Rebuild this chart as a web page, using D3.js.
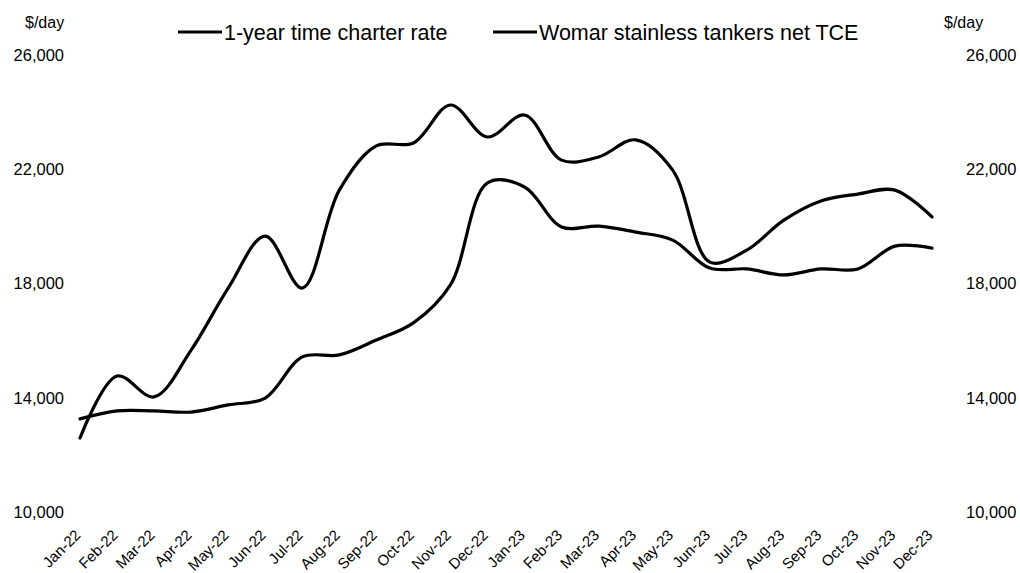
<!DOCTYPE html>
<html><head><meta charset="utf-8">
<script src="https://cdn.jsdelivr.net/npm/d3@7"></script>
<style>body{margin:0;background:#fff}svg{display:block}text{font-family:"Liberation Sans",Arial,sans-serif;fill:#000}</style>
</head><body><svg id="c" width="1020" height="573"></svg>
<script>
const months = ["Jan-22","Feb-22","Mar-22","Apr-22","May-22","Jun-22","Jul-22","Aug-22","Sep-22","Oct-22","Nov-22","Dec-22",
"Jan-23","Feb-23","Mar-23","Apr-23","May-23","Jun-23","Jul-23","Aug-23","Sep-23","Oct-23","Nov-23","Dec-23"];
const charterRate = [13260,13540,13540,13500,13750,13990,15430,15500,16020,16620,17950,21520,
21380,19980,20010,19800,19520,18540,18510,18300,18510,18510,19310,19240];
const womarTCE = [12590,14760,14030,15670,17840,19660,17840,21270,22820,22920,24250,23130,
23900,22320,22430,23030,21970,18750,19170,20220,20890,21130,21270,20330];
const yTicks = [10000,14000,18000,22000,26000];
const seriesNames = ["1-year time charter rate","Womar stainless tankers net TCE"];

const svg = d3.select("#c");
const x = d3.scalePoint().domain(months).range([80,932]);
const y = d3.scaleLinear().domain([10000,26000]).range([512,55]);
const fmt = d3.format(",");

const axL = svg.append("g").attr("transform","translate(64,0)")
  .call(d3.axisLeft(y).tickValues(yTicks).tickFormat(fmt).tickSize(0).tickPadding(0));
const axR = svg.append("g").attr("transform","translate(966,0)")
  .call(d3.axisRight(y).tickValues(yTicks).tickFormat(fmt).tickSize(0).tickPadding(0));
[axL,axR].forEach(a=>{a.select(".domain").remove();a.selectAll("text").style("font-size","16.5px").style("font-family","Liberation Sans, Arial, sans-serif");});

const axB = svg.append("g").attr("transform","translate(0,522)")
  .call(d3.axisBottom(x).tickSize(0).tickPadding(0));
axB.select(".domain").remove();
axB.selectAll("text").style("font-size","15px").style("font-family","Liberation Sans, Arial, sans-serif")
  .attr("text-anchor","end").attr("dy","0").attr("y",0)
  .attr("transform","translate(1,14) rotate(-45)");

svg.append("text").attr("x",25).attr("y",28).style("font-size","16px").text("$/day");
svg.append("text").attr("x",944).attr("y",28).style("font-size","16px").text("$/day");

const line = d3.line().x((d,i)=>x(months[i])).y(d=>y(d)).curve(d3.curveCatmullRom.alpha(0.5));
[charterRate,womarTCE].forEach(s=>{
  svg.append("path").datum(s).attr("d",line).attr("fill","none").attr("stroke","#000").attr("stroke-width",3.2).attr("stroke-linecap","round");
});

const legX = [178,493];
seriesNames.forEach((n,i)=>{
  svg.append("line").attr("x1",legX[i]).attr("x2",legX[i]+44).attr("y1",32).attr("y2",32).attr("stroke","#000").attr("stroke-width",3.2);
  svg.append("text").attr("x",legX[i]+46).attr("y",40).style("font-size","21.5px").text(n);
});
</script></body></html>
